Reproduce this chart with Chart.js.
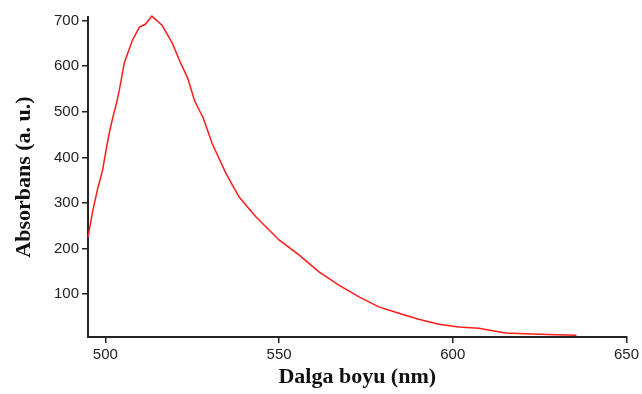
<!DOCTYPE html>
<html>
<head>
<meta charset="utf-8">
<script src="https://cdn.jsdelivr.net/npm/chart.js@4/dist/chart.umd.min.js"></script>
<style>
  html, body { margin: 0; padding: 0; background: #fff; }
  #wrap { width: 642px; height: 394px; }
</style>
</head>
<body>
<div id="wrap"><canvas id="spectrum" width="642" height="394"></canvas></div>
<script>
// Absorbance spectrum
const wavelengths = [495, 496.4, 497.8, 499.2, 500.2, 501.1, 502.1, 503.4, 504, 505.5, 507.8, 509.8,
  511.5, 513.4, 516.3, 519.3, 521.3, 523.7, 525.6, 527, 528.2, 530.7, 534.7, 536.9, 538.5, 543.3,
  550, 555.7, 561.5, 567.2, 573, 578.7, 584.5, 590.2, 596, 601.7, 607.5, 615.1, 624.7, 635.6];
const absorbance = [225, 284, 332, 372, 416, 453, 486, 525, 547, 609, 657, 686,
  692, 710, 690, 650, 613, 574, 526, 504, 486, 431, 365, 335, 313, 270,
  219, 186, 149, 120, 94, 72, 58, 45, 34, 28, 25, 15, 12, 10];
const xTicks = [500, 550, 600, 650];
const yTicks = [100, 200, 300, 400, 500, 600, 700];

const axisColor = '#222';

new Chart(document.getElementById('spectrum'), {
  type: 'line',
  data: {
    datasets: [{
      data: wavelengths.map((w, i) => ({ x: w, y: absorbance[i] })),
      borderColor: '#ff1a1a',
      borderWidth: 1.5,
      pointRadius: 0,
      tension: 0,
      clip: false
    }]
  },
  options: {
    responsive: false,
    animation: false,
    layout: { padding: { top: 17, right: 14, left: 0, bottom: 0 } },
    plugins: { legend: { display: false }, tooltip: { enabled: false } },
    scales: {
      x: {
        type: 'linear',
        min: 495,
        max: 650,
        afterBuildTicks: s => { s.ticks = xTicks.map(v => ({ value: v })); },
        afterFit: s => { s.height = 57; },
        border: { color: axisColor, width: 2 },
        grid: { drawOnChartArea: false, tickLength: 6, color: axisColor, lineWidth: 1.5 },
        ticks: { color: axisColor, padding: 3, font: { family: 'Liberation Sans', size: 15 } },
        title: {
          display: true,
          text: 'Dalga boyu (nm)',
          color: '#111',
          padding: { top: 0, bottom: 3 },
          font: { family: 'Liberation Serif', size: 22, weight: 'bold' }
        }
      },
      y: {
        min: 6,
        max: 708,
        afterBuildTicks: s => { s.ticks = yTicks.map(v => ({ value: v })); },
        afterFit: s => { s.width = 88; },
        border: { color: axisColor, width: 2 },
        grid: { drawOnChartArea: false, tickLength: 6, color: axisColor, lineWidth: 1.5 },
        ticks: { color: axisColor, padding: 3, font: { family: 'Liberation Sans', size: 15 } },
        title: {
          display: true,
          text: 'Absorbans (a. u.)',
          color: '#111',
          padding: { top: 11, bottom: 0 },
          font: { family: 'Liberation Serif', size: 22, weight: 'bold' }
        }
      }
    }
  }
});
</script>
</body>
</html>
